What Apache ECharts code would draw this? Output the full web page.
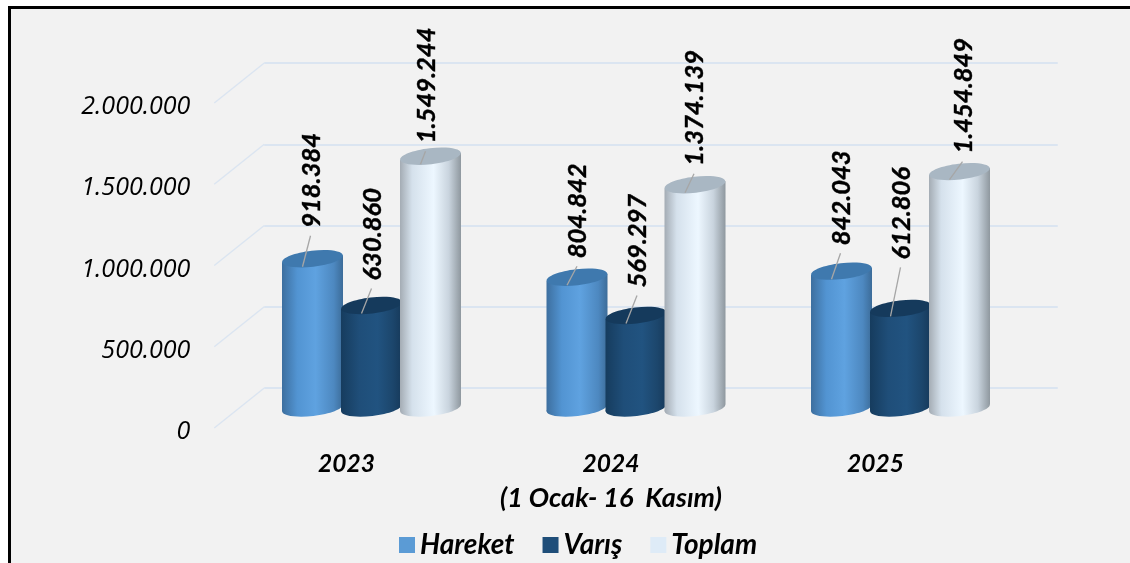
<!DOCTYPE html>
<html>
<head>
<meta charset="utf-8">
<title>Hareket Varış Toplam</title>
<script src="https://cdn.jsdelivr.net/npm/echarts@6/dist/echarts.min.js"></script>
<style>
  html, body { margin: 0; padding: 0; background: #fff; }
  #chart { width: 1130px; height: 563px; }
</style>
</head>
<body>
<div id="chart"></div>
<script>
var years = ['2023', '2024', '2025'];
var periodNote = '(1 Ocak- 16  Kasım)';
var hareket = [918384, 804842, 842043];
var varis = [630860, 569297, 612806];
var toplam = [1549244, 1374139, 1454849];
var yTicks = [0, 500000, 1000000, 1500000, 2000000];
var valueLabels = {
  Hareket: ['918.384', '804.842', '842.043'],
  Varış: ['630.860', '569.297', '612.806'],
  Toplam: ['1.549.244', '1.374.139', '1.454.849']
};
// gap between cylinder top and the start of its rotated label, by year
var labelGaps = { Hareket: [31, 19, 26], Varış: [25, 28, 49], Toplam: [13, 19, 18] };
// sideways nudge of the rotated label and the end of its leader line
var labelNudges = { Hareket: [-1, 1, 0], Varış: [1, 2, 1], Toplam: [-4, 0, 4] };

var FONT = 'Lato, "Open Sans", sans-serif';
var DEPTH_X = 25, DEPTH_Y = 20;
var MID_LEFT = 239.25, MID_WIDTH = 793.5, ZERO_Y = 408, PLOT_H = 325;
var LABEL_DROP = 4; // y tick labels sit slightly below the front ends of the diagonals
var LINE_COLOR = '#dbe5f1';

function dotted(n) { return String(n).replace(/\B(?=(\d{3})+$)/g, '.'); }

function sideGradient(stops) {
  return new echarts.graphic.LinearGradient(0, 0, 1, 0, stops.map(function (s) {
    return { offset: s[0], color: s[1] };
  }));
}

var styles = {
  Hareket: {
    offset: -59, legend: '#5b9bd5', top: '#3f79ae',
    side: [[0, '#3d6f9f'], [0.25, '#5294d2'], [0.55, '#5fa2e0'], [0.85, '#4d88c0'], [1, '#3c6c99']]
  },
  Varış: {
    offset: 0, legend: '#1f4e79', top: '#153a5c',
    side: [[0, '#163c5e'], [0.3, '#1f4e79'], [0.6, '#215380'], [0.85, '#1c466c'], [1, '#16395a']]
  },
  Toplam: {
    offset: 59, legend: '#deebf7', top: '#a9b7c3',
    side: [[0, '#a4acb4'], [0.2, '#d5e1ec'], [0.55, '#edf7ff'], [0.8, '#c9d4de'], [1, '#8f989f']]
  }
};

function cylinder(name) {
  var st = styles[name];
  return function (params, api) {
    var i = api.value(0), v = api.value(1);
    var top = api.coord([i, v]), base = api.coord([i, 0]);
    var cx = top[0] + st.offset, rx = 30.5, ry = 8, tilt = 3.5;
    var grad = sideGradient(st.side);
    var textY = top[1] - labelGaps[name][i];
    var nudge = labelNudges[name][i];
    return {
      type: 'group',
      children: [
        { type: 'ellipse', shape: { cx: cx, cy: base[1], rx: rx, ry: ry }, rotation: 0.115, originX: cx, originY: base[1], style: { fill: grad } },
        { type: 'polygon', shape: { points: [
            [cx - rx, top[1] + tilt], [cx + rx, top[1] - tilt],
            [cx + rx, base[1] - tilt], [cx - rx, base[1] + tilt]
          ] }, style: { fill: grad } },
        { type: 'ellipse', shape: { cx: cx, cy: top[1], rx: rx, ry: ry }, rotation: 0.115, originX: cx, originY: top[1], style: { fill: st.top } },
        { type: 'line', shape: { x1: cx - 10, y1: top[1] + 8, x2: cx + nudge - 1, y2: textY + 8 }, style: { stroke: '#a6a6a6', lineWidth: 1.3 } },
        { type: 'text', x: cx + nudge, y: textY, rotation: Math.PI / 2,
          style: { text: valueLabels[name][i], font: 'italic bold 25.5px ' + FONT, fill: '#000', stroke: '#000', lineWidth: 0.4, align: 'left', verticalAlign: 'middle' } }
      ]
    };
  };
}

function cylinderSeries(name, values) {
  return {
    name: name, type: 'custom', xAxisIndex: 1, yAxisIndex: 1, z: 3,
    encode: { x: 0, y: 1 },
    itemStyle: { color: styles[name].legend },
    data: values.map(function (v, i) { return [i, v]; }),
    renderItem: cylinder(name)
  };
}

// side-wall diagonals, from the front axis to the back wall
var wallSeries = {
  type: 'custom', xAxisIndex: 0, yAxisIndex: 0, z: 1, silent: true,
  encode: { y: 0 },
  data: yTicks.map(function (t) { return [t]; }),
  renderItem: function (params, api) {
    var y = api.coord([0, api.value(0)])[1] - LABEL_DROP;
    var x = params.coordSys.x;
    return {
      type: 'line',
      shape: { x1: x, y1: y, x2: x + 2 * DEPTH_X, y2: y - 2 * DEPTH_Y },
      style: { stroke: LINE_COLOR, lineWidth: 1.5 }
    };
  }
};

function plainAxes(gridIndex, show) {
  return {
    x: { type: 'category', gridIndex: gridIndex, data: years, axisLine: { show: false }, axisTick: { show: false }, axisLabel: { show: false } },
    y: { type: 'value', gridIndex: gridIndex, min: 0, max: 2000000, interval: 500000, axisLine: { show: false }, axisTick: { show: false }, axisLabel: { show: false }, splitLine: { show: show, lineStyle: { color: LINE_COLOR, width: 2 } } }
  };
}

var frontAxes = plainAxes(0, false), midAxes = plainAxes(1, false), backAxes = plainAxes(2, true);

frontAxes.x.axisLabel = {
  show: true, margin: 15, interval: 0, color: '#000', lineHeight: 34,
  fontFamily: FONT, fontStyle: 'italic', fontWeight: 'bold', fontSize: 24.5,
  formatter: function (val) { return val === '2024' ? val + '\n{note|' + periodNote + '}' : val; },
  rich: { note: { fontFamily: FONT, fontStyle: 'italic', fontWeight: 'bold', fontSize: 27, color: '#000', lineHeight: 34 } }
};
frontAxes.y.axisLabel = {
  show: true, margin: 24, color: '#000', fontFamily: '"Open Sans", sans-serif', fontStyle: 'italic', fontSize: 25,
  formatter: function (v) { return dotted(v); }
};

var chart = echarts.init(document.getElementById('chart'));
chart.setOption({
  animation: false,
  backgroundColor: '#fff',
  graphic: [{
    type: 'rect', z: -10, silent: true,
    shape: { x: 9.5, y: 7.5, width: 1200, height: 600 },
    style: { fill: '#f2f2f2', stroke: '#000', lineWidth: 3 }
  }],
  grid: [
    { left: MID_LEFT - DEPTH_X, width: MID_WIDTH, top: ZERO_Y + DEPTH_Y + LABEL_DROP - PLOT_H, height: PLOT_H },
    { left: MID_LEFT, width: MID_WIDTH, top: ZERO_Y - PLOT_H, height: PLOT_H },
    { left: MID_LEFT + DEPTH_X, width: MID_WIDTH, top: ZERO_Y - DEPTH_Y - PLOT_H, height: PLOT_H }
  ],
  xAxis: [frontAxes.x, midAxes.x, backAxes.x],
  yAxis: [frontAxes.y, midAxes.y, backAxes.y],
  legend: {
    data: ['Hareket', 'Varış', 'Toplam'],
    left: 394, top: 526, icon: 'rect', itemWidth: 16, itemHeight: 16, itemGap: 28, selectedMode: false,
    textStyle: { color: '#000', fontFamily: FONT, fontStyle: 'italic', fontWeight: 'bold', fontSize: 28 }
  },
  series: [wallSeries, cylinderSeries('Hareket', hareket), cylinderSeries('Varış', varis), cylinderSeries('Toplam', toplam)]
});
</script>
</body>
</html>
